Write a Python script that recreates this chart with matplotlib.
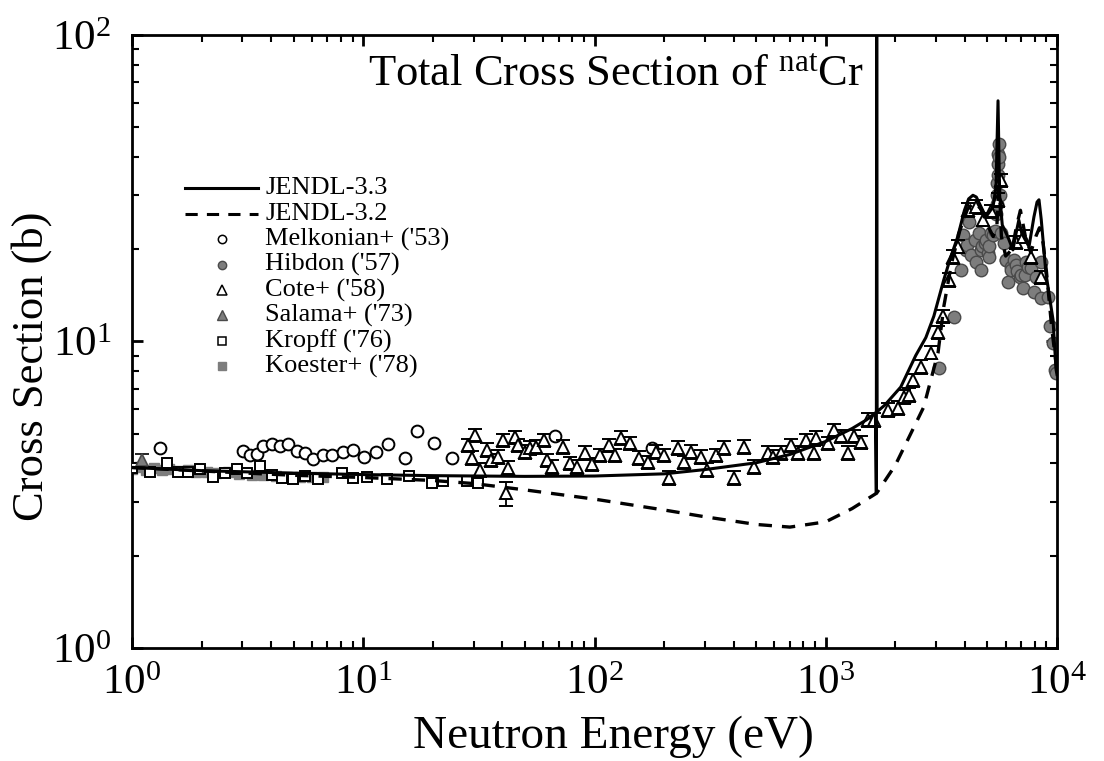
import numpy as np
import matplotlib
matplotlib.use("Agg")
import matplotlib.pyplot as plt
from matplotlib.lines import Line2D

plt.rcParams['font.family'] = ['Liberation Serif', 'DejaVu Serif']
plt.rcParams['mathtext.fontset'] = 'custom'
plt.rcParams['mathtext.rm'] = 'Liberation Serif'
plt.rcParams['mathtext.it'] = 'Liberation Serif:italic'

# JENDL-3.3 evaluated curve (eV, barn)
j33_e = [1, 2, 5, 10, 20, 50, 100, 200, 300, 500, 700, 1000, 1300, 1500, 1640,
         1655, 1661, 1668, 1800, 2110, 2450, 2710, 2935, 3240, 3475, 3725, 3980,
         4150, 4330, 4480, 4600, 4930, 5290, 5450, 5560, 5650, 5800, 6140, 6450,
         6650, 6840, 7050, 7570, 7950, 8200, 8360, 8550, 8960, 9230, 9610, 9910, 10000]
j33_s = [3.88, 3.79, 3.72, 3.68, 3.65, 3.63, 3.64, 3.70, 3.82, 4.02, 4.28, 4.72, 5.2, 5.55, 5.85,
         3.2, 200, 5.9, 6.2, 7.1, 9.0, 10.3, 12.1, 15.9, 18.9, 22.0, 26.8,
         29.2, 30.0, 29.6, 28.4, 25.5, 27.5, 32, 61, 30, 24, 21.9, 19.9,
         22.5, 24.9, 22.5, 20.4, 25.5, 28.5, 29.0, 25, 16.7, 14.4, 11.8, 8.1, 7.8]

# JENDL-3.2 evaluated curve
j32_e = [1, 2, 5, 10, 20, 30, 50, 100, 200, 300, 500, 700, 1000, 1300, 1660, 2000,
         2300, 2650, 3060, 3240, 3500, 3800, 4100, 4400, 4700, 5000, 5300, 5500,
         5620, 5750, 6000, 6400, 6700, 6950, 7300, 7700, 8100, 8400, 8700, 9000,
         9500, 10000]
j32_s = [3.88, 3.78, 3.66, 3.60, 3.52, 3.44, 3.28, 3.06, 2.82, 2.68, 2.53, 2.48, 2.58, 2.85, 3.2, 3.95,
         4.9, 6.1, 9.2, 13.0, 18.0, 23.0, 27.0, 28.5, 27.0, 24.0, 22.0, 24.0,
         34.0, 22.0, 19.0, 20.0, 24.0, 26.8, 22.0, 19.5, 22.0, 23.5, 21.0, 17.0,
         11.0, 8.0]

melk_e = [1.32, 3.02, 3.24, 3.48, 3.69, 4.04, 4.37, 4.73, 5.18, 5.61, 6.08, 6.71, 7.34,
          8.19, 9.05, 10.1, 11.3, 12.8, 15.2, 17.1, 20.3, 24.3, 67.8, 178]
melk_s = [4.5, 4.40, 4.26, 4.30, 4.56, 4.63, 4.56, 4.63, 4.40, 4.33, 4.14, 4.26, 4.26,
          4.36, 4.43, 4.20, 4.36, 4.63, 4.17, 5.1, 4.66, 4.17, 4.92, 4.5]

hib_e = [3085, 3580, 3840, 3920, 4050, 4070, 4160, 4250, 4400, 4460, 4590, 4680, 4690,
         4750, 4900, 4930, 5010, 5080, 5100, 5180, 5280, 5400, 5450, 5480, 5500, 5520,
         5540, 5560, 5580, 5590, 5620, 5650, 5720, 5900, 6000, 6010, 6140, 6300, 6320,
         6500, 6650, 6700, 6900, 6980, 7130, 7300, 7340, 7500, 7710, 7940, 8110, 8530,
         8530, 9140, 9330, 9570, 9800, 9950]
hib_s = [8.2, 12.0, 17.1, 22.3, 19.9, 20.7, 24.5, 19.2, 21.4, 18.2, 22.6, 17.1, 19.9,
         20.5, 21.0, 21.4, 19.4, 18.8, 20.5, 22.6, 22.2, 23.0, 26.0, 28.0, 30.0, 33.0,
         35.0, 38.0, 41.0, 44.0, 40.0, 30.0, 22.6, 20.9, 18.5, 18.4, 15.6, 17.5, 17.1,
         18.5, 17.7, 17.0, 16.2, 16.5, 15.0, 16.5, 18.2, 17.5, 17.4, 14.5, 16.2, 13.9,
         18.2, 14.0, 11.2, 9.9, 8.1, 7.9]

cote_e = [28.5, 29.6, 30.5, 32.1, 34.4, 35.5, 38.4, 40.4, 41.6, 42.4, 45.5, 46.9, 50.2,
          52.8, 55.6, 60.2, 62.6, 65.8, 73.4, 78.7, 84.4, 91.4, 98, 106, 115, 123, 130,
          143, 155, 171, 184, 199, 209, 229, 243, 261, 288, 308, 334, 362, 400, 442,
          488, 561, 589, 638, 705, 756, 819, 887, 906, 1020, 1083, 1162, 1246, 1322,
          1418, 1520, 1614, 1855, 2050, 2178, 2286, 2381, 2577, 2849, 3053, 3206,
          3404, 3546, 3727, 4118, 4460, 4783, 5177, 5557, 5722, 6651, 7130, 7710, 8530]
cote_s = [4.59, 4.17, 4.95, 3.81, 4.43, 4.10, 4.20, 4.77, 3.20, 3.87, 4.88, 4.59, 4.36,
          4.50, 4.53, 4.77, 4.10, 3.90, 4.53, 4.00, 3.90, 4.33, 3.97, 4.26, 4.59, 4.26, 4.85,
          4.66, 4.17, 4.04, 4.36, 4.26, 3.59, 4.50, 4.04, 4.36, 4.20, 3.81, 4.26, 4.50, 3.59, 4.53,
          3.9, 4.33, 4.2, 4.33, 4.59, 4.33, 4.77, 4.33, 4.85, 4.66, 5.14, 4.9, 4.33, 4.9,
          4.7, 5.55, 5.55, 5.98, 6.07, 6.6, 6.7, 7.48, 8.26, 9.2, 10.7, 12.1,
          15.9, 18.9, 20.4, 26.9, 27.5, 25.0, 26.6, 29.0, 33.6, 21.1, 22.0, 18.9, 16.2]
cote_err = [0.05] * len(cote_e)
cote_err[8] = 0.09

sal_e = [1.10]
sal_s = [4.10]
sal_err = [0.05]

krop_e = [1.0, 1.2, 1.42, 1.58, 1.75, 1.97, 2.24, 2.53, 2.85, 3.15, 3.58, 4.04, 4.46,
          4.98, 5.61, 6.38, 8.11, 9.05, 10.4, 12.7, 15.7, 19.9, 22.2, 28.2, 31.2]
krop_s = [3.87, 3.75, 4.02, 3.75, 3.75, 3.84, 3.61, 3.72, 3.84, 3.72, 3.93, 3.67, 3.59,
          3.55, 3.64, 3.57, 3.72, 3.59, 3.61, 3.55, 3.64, 3.45, 3.50, 3.50, 3.45]

koe_e = [1.0, 1.08, 1.15, 1.25, 1.35, 1.45, 1.6, 1.75, 1.9, 2.1, 2.3, 2.6, 2.9, 3.3,
         3.7, 4.2, 4.7, 5.3, 6.0, 6.7]
koe_s = [3.85, 3.9, 3.82, 3.88, 3.8, 3.85, 3.78, 3.8, 3.76, 3.74, 3.72, 3.75, 3.7, 3.68,
         3.66, 3.64, 3.62, 3.6, 3.62, 3.6]

grey = '#7d7d7d'
grey_edge = '#4a4a4a'

fig = plt.figure(figsize=(11.04, 7.61), dpi=100)
ax = fig.add_axes([0.1196, 0.1485, 0.8378, 0.8055])

ax.plot(koe_e, koe_s, 's', ms=7, mfc=grey, mec=grey, mew=1, zorder=2)
ax.plot(hib_e, hib_s, 'o', ms=9, mfc=grey, mec=grey_edge, mew=1, zorder=2)
ax.plot(krop_e, krop_s, 's', ms=7.5, mfc='white', mec='black', mew=1.4, zorder=3)
ax.plot(melk_e, melk_s, 'o', ms=8.5, mfc='white', mec='black', mew=1.4, zorder=3)
ax.errorbar(cote_e, cote_s, yerr=np.array(cote_s) * np.array(cote_err), fmt='^',
            ms=9, mfc='white', mec='black', mew=1.4, ecolor='black', elinewidth=1.3,
            capsize=5, capthick=1.3, zorder=3)
ax.errorbar(sal_e, sal_s, yerr=np.array(sal_s) * np.array(sal_err), fmt='^',
            ms=9, mfc=grey, mec=grey_edge, mew=1.2, ecolor='black', elinewidth=1.3,
            capsize=5, capthick=1.3, zorder=3)

ax.plot(j32_e, j32_s, color='black', lw=2.4, ls=(0, (4, 3)), zorder=4)
ax.plot(j33_e, j33_s, color='black', lw=2.2, zorder=5)

ax.set_xscale('log')
ax.set_yscale('log')
ax.set_xlim(1, 1e4)
ax.set_ylim(1, 100)

for s in ax.spines.values():
    s.set_linewidth(2)
ax.tick_params(which='both', direction='in', top=True, right=True, labelsize=31)
ax.tick_params(axis='x', pad=12)
ax.tick_params(axis='y', pad=15)
ax.tick_params(which='major', length=8, width=2)
ax.tick_params(which='minor', length=5, width=1.5)

ax.set_xlabel('Neutron Energy (eV)', fontsize=34)
ax.xaxis.set_label_coords(0.52, -0.11)
ax.set_ylabel('Cross Section (b)', fontsize=32)
ax.yaxis.set_label_coords(-0.087, 0.46)

ax.text(0.523, 0.935, r'Total Cross Section of $^{\mathrm{nat}}$Cr', transform=ax.transAxes,
        ha='center', va='center', fontsize=32)

# legend drawn by hand
entries = [
    ('JENDL-3.3', dict(ls='-', lw=2.2, color='black', marker=None)),
    ('JENDL-3.2', dict(ls=(0, (4, 3)), lw=2.2, color='black', marker=None)),
    ("Melkonian+ ('53)", dict(ls='none', marker='o', ms=6, mfc='white', mec='black', mew=1.1)),
    ("Hibdon ('57)", dict(ls='none', marker='o', ms=6, mfc=grey, mec=grey_edge, mew=1)),
    ("Cote+ ('58)", dict(ls='none', marker='^', ms=6.5, mfc='white', mec='black', mew=1.1)),
    ("Salama+ ('73)", dict(ls='none', marker='^', ms=6.5, mfc=grey, mec=grey_edge, mew=1)),
    ("Kropff ('76)", dict(ls='none', marker='s', ms=6, mfc='white', mec='black', mew=1.1)),
    ("Koester+ ('78)", dict(ls='none', marker='s', ms=6, mfc=grey, mec=grey, mew=1)),
]
x0, x1, xt = (185 - 132) / 925, (258 - 132) / 925, (265 - 132) / 925
for i, (lab, st) in enumerate(entries):
    yy = (648 - (188 + 25.5 * i)) / 613
    if st.get('marker') is None:
        ax.add_line(Line2D([x0, x1], [yy, yy], transform=ax.transAxes, **st))
    else:
        ax.add_line(Line2D([(x0 + x1) / 2], [yy], transform=ax.transAxes, **st))
    ax.text(xt, yy, lab, transform=ax.transAxes, ha='left', va='center', fontsize=19)

fig.savefig('out.png', dpi=100)
